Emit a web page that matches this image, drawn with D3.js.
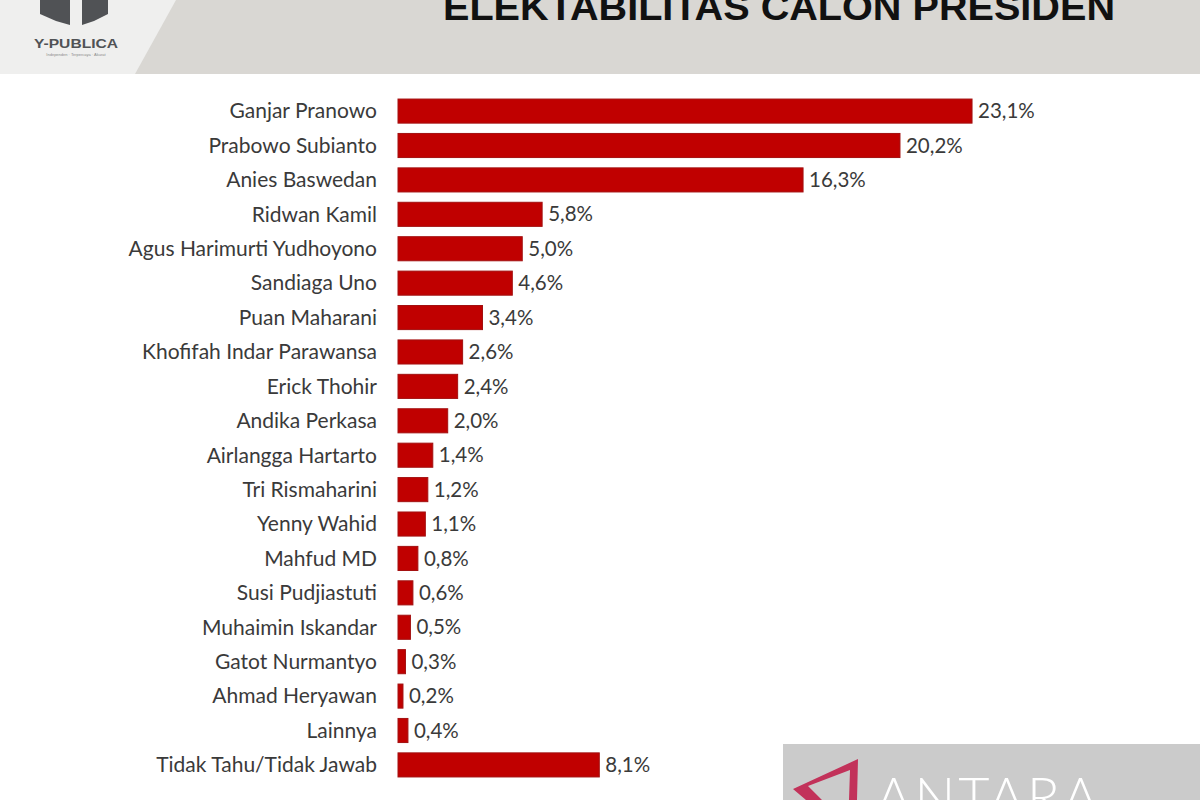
<!DOCTYPE html>
<html>
<head>
<meta charset="utf-8">
<script src="https://cdn.jsdelivr.net/npm/d3@7"></script>
<style>
  html, body { margin: 0; padding: 0; background: #fff; }
  svg { display: block; }
</style>
</head>
<body>
<div id="chart"></div>
<script>
// candidates, top to bottom
const names = [
  "Ganjar Pranowo", "Prabowo Subianto", "Anies Baswedan", "Ridwan Kamil",
  "Agus Harimurti Yudhoyono", "Sandiaga Uno", "Puan Maharani",
  "Khofifah Indar Parawansa", "Erick Thohir", "Andika Perkasa",
  "Airlangga Hartarto", "Tri Rismaharini", "Yenny Wahid", "Mahfud MD",
  "Susi Pudjiastuti", "Muhaimin Iskandar", "Gatot Nurmantyo",
  "Ahmad Heryawan", "Lainnya", "Tidak Tahu/Tidak Jawab"
];
const values = [23.1, 20.2, 16.3, 5.8, 5.0, 4.6, 3.4, 2.6, 2.4, 2.0,
  1.4, 1.2, 1.1, 0.8, 0.6, 0.5, 0.3, 0.2, 0.4, 8.1];

const title = "ELEKTABILITAS CALON PRESIDEN";

const width = 1200, height = 800;

const svg = d3.select("#chart").append("svg")
  .attr("width", width)
  .attr("height", height);

// header band
svg.append("rect")
  .attr("x", 0).attr("y", 0)
  .attr("width", width).attr("height", 74)
  .attr("fill", "#d9d7d3");
svg.append("path")
  .attr("d", "M0,0 L176,0 L135,74 L0,74 Z")
  .attr("fill", "#efefee");

// logo
const logo = svg.append("g").attr("fill", "#505255");
logo.append("path").attr("d", "M40,0 L70,0 L70,25 L56,21 L40,14 Z");
logo.append("path").attr("d", "M82,0 L108,0 L108,14 L94,21 L82,25 Z");
logo.append("text")
  .attr("x", 76).attr("y", 48)
  .attr("text-anchor", "middle")
  .attr("font-family", "Liberation Sans, Arial, sans-serif")
  .attr("font-weight", "bold")
  .attr("font-size", 13)
  .attr("textLength", 84)
  .attr("lengthAdjust", "spacingAndGlyphs")
  .text("Y-PUBLICA");
logo.append("text")
  .attr("x", 76).attr("y", 56)
  .attr("text-anchor", "middle")
  .attr("font-family", "Liberation Sans, Arial, sans-serif")
  .attr("font-size", 4)
  .attr("fill", "#8a8a8a")
  .text("Independen · Terpercaya · Akurat");

svg.append("text")
  .attr("x", 443).attr("y", 20)
  .attr("font-family", "Liberation Sans, Arial, sans-serif")
  .attr("font-weight", "bold")
  .attr("font-size", 36)
  .attr("textLength", 672)
  .attr("lengthAdjust", "spacingAndGlyphs")
  .attr("fill", "#111")
  .text(title);

// scales
const x = d3.scaleLinear().domain([0, 25]).range([398, 398 + 25 * 24.85]);
const y = d3.scaleBand().domain(names).range([87, 789])
  .paddingInner(0.3).paddingOuter(0.35);

const rows = svg.append("g").selectAll("g")
  .data(names.map((n, i) => ({ name: n, value: values[i] })))
  .enter().append("g");

rows.append("rect")
  .attr("x", x(0))
  .attr("y", d => y(d.name))
  .attr("width", d => x(d.value) - x(0))
  .attr("height", y.bandwidth())
  .attr("fill", "#c00000")
  .attr("stroke", "#a31010")
  .attr("stroke-width", 1);

rows.append("text")
  .attr("x", x(0) - 21)
  .attr("y", d => y(d.name) + y.bandwidth() / 2)
  .attr("dy", "0.35em")
  .attr("text-anchor", "end")
  .attr("font-family", "Lato, sans-serif")
  .attr("font-size", 21)
  .attr("fill", "#3a3a3a")
  .text(d => d.name);

rows.append("text")
  .attr("x", d => x(d.value) + 6)
  .attr("y", d => y(d.name) + y.bandwidth() / 2)
  .attr("dy", "0.35em")
  .attr("font-family", "Lato, sans-serif")
  .attr("font-size", 20.5)
  .attr("fill", "#3a3a3a")
  .text(d => d3.format(".1f")(d.value).replace(".", ",") + "%");

// watermark
const wm = svg.append("g");
wm.append("rect")
  .attr("x", 783).attr("y", 744)
  .attr("width", width - 783).attr("height", height - 744)
  .attr("fill", "#cbcbcb");
wm.append("path")
  .attr("d", "M858,759 L857,800 L849,800 L850,770 L808,786 L822,800 L806,800 L793,789 Z")
  .attr("fill", "#c2325a");
wm.append("text")
  .attr("x", 876).attr("y", 816)
  .attr("font-family", "Lato, sans-serif")
  .attr("font-weight", 300)
  .attr("font-size", 54)
  .attr("letter-spacing", 3)
  .attr("fill", "#ffffff")
  .text("ANTARA");
</script>
</body>
</html>
